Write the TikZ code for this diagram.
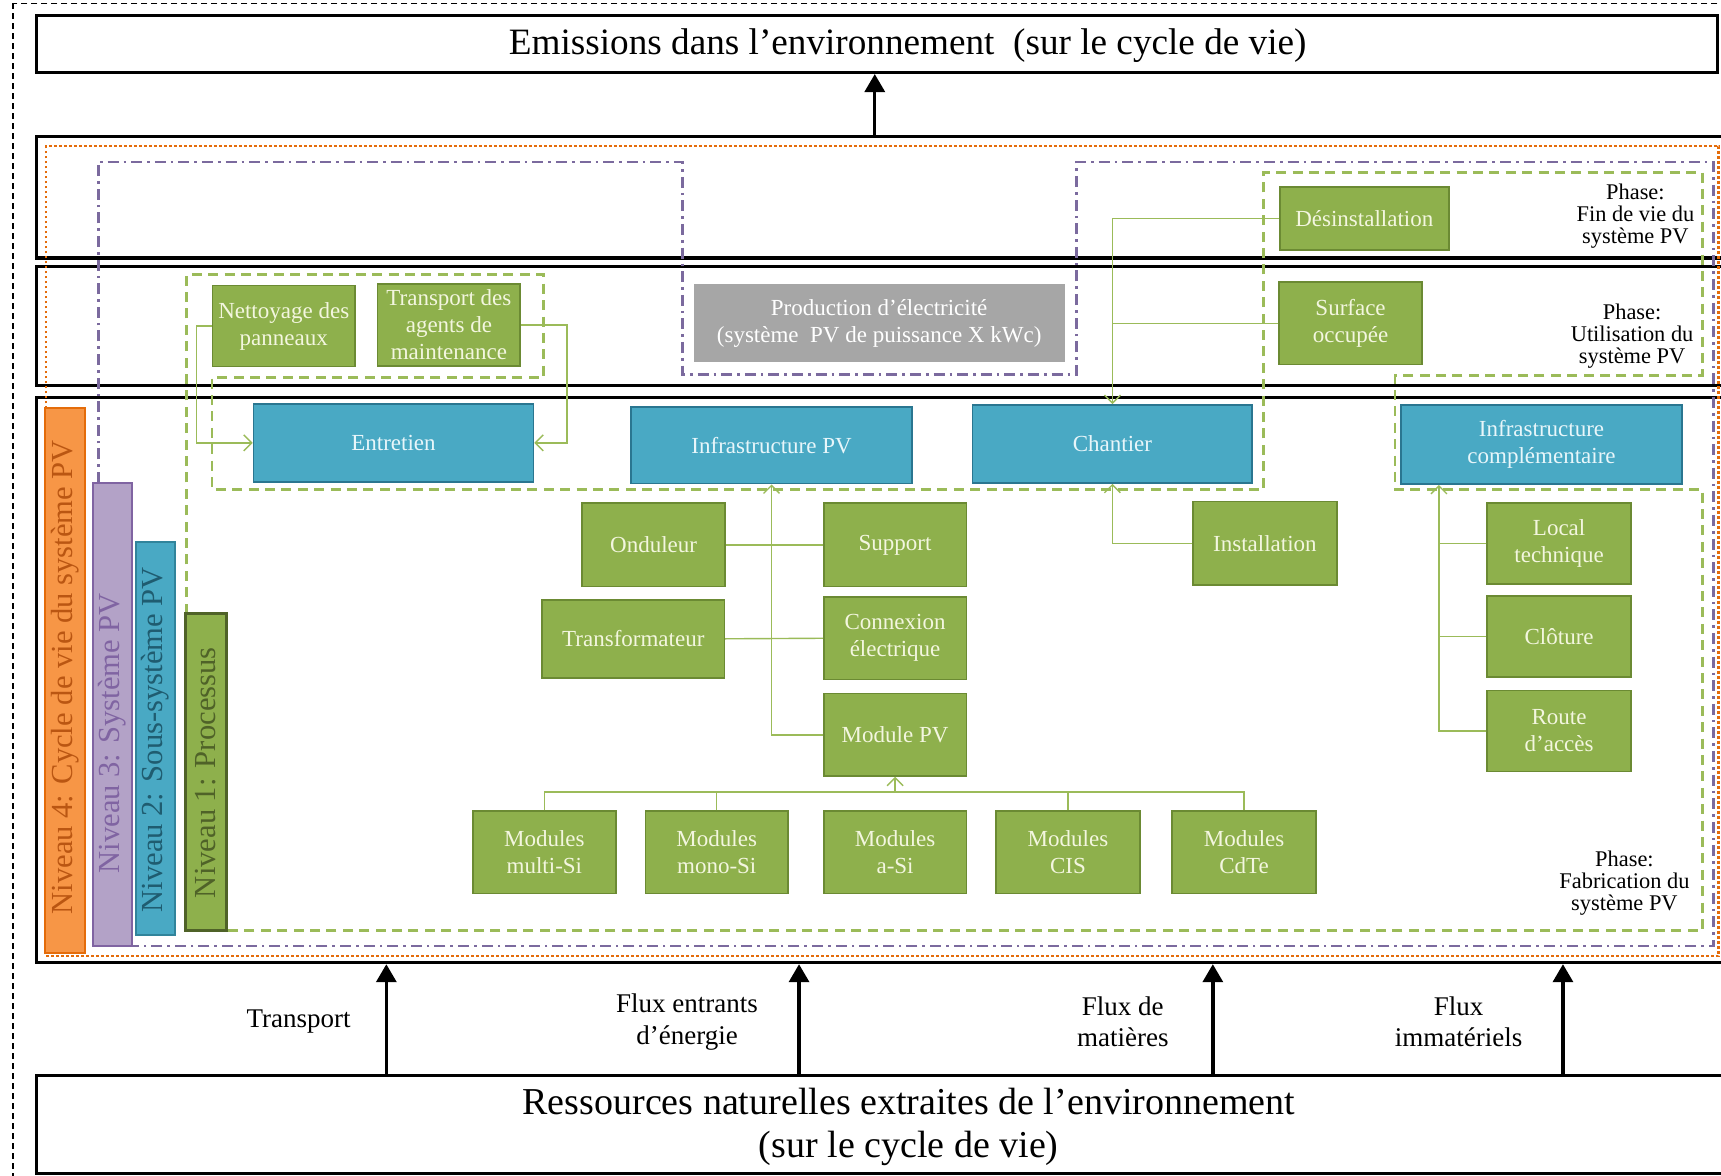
\documentclass[tikz,border=0pt]{standalone}
\usepackage{fontspec}
\setmainfont{Liberation Serif}
\usetikzlibrary{arrows.meta}
\definecolor{gfill}{HTML}{8EB04C}
\definecolor{gdraw}{HTML}{6B8A33}
\definecolor{gtext}{HTML}{F3F6DF}
\definecolor{bfill}{HTML}{49A9C4}
\definecolor{bdraw}{HTML}{2A7690}
\definecolor{btext}{HTML}{E8F6FA}
\definecolor{grayfill}{HTML}{A6A6A6}
\definecolor{lgreen}{HTML}{9BBB59}
\definecolor{dgreen}{HTML}{4F6228}
\definecolor{orangeF}{HTML}{F79646}
\definecolor{orangeD}{HTML}{E46C0A}
\definecolor{orangeT}{HTML}{BA5612}
\definecolor{purpF}{HTML}{B3A2C7}
\definecolor{purpD}{HTML}{8064A2}
\definecolor{purpL}{HTML}{7B6A9E}
\definecolor{tealD}{HTML}{31849B}
\definecolor{tealT}{HTML}{1F5C70}
\tikzset{
  wh/.style 2 args={minimum width=#1*0.5488pt, minimum height=#2*0.5488pt},
  boxfont/.style={font=\fontsize{11.5}{13.5}\selectfont},
  gbox/.style={draw=gdraw, line width=0.8pt, fill=gfill, text=gtext, align=center, inner sep=1pt, boxfont},
  bbox/.style={draw=bdraw, line width=0.9pt, fill=bfill, text=btext, align=center, inner sep=1pt, boxfont},
  graybox/.style={draw=none, fill=grayfill, text=white, align=center, inner sep=1pt, boxfont},
  band/.style={draw=black, line width=1.6pt, inner sep=0pt},
  bigbox/.style={draw=black, line width=1.6pt, inner sep=0pt},
  bigarr/.style={draw=black, line width=1.7pt, -{Triangle[length=9pt,width=10pt]}},
  conn/.style={draw=lgreen, line width=0.7pt},
  arr/.style={conn, -{Straight Barb[length=4pt,width=8pt]}},
  gdash/.style={draw=lgreen, line width=1.3pt, dash pattern=on 5pt off 3.2pt},
  pdash/.style={draw=purpL, line width=1.3pt, dash pattern=on 5.5pt off 2.5pt on 1.3pt off 2.5pt},
  odot/.style={draw=orangeD, line width=1.4pt, dash pattern=on 1.4pt off 1.1pt},
  phase/.style={align=center, inner sep=0pt, font=\fontsize{11.2}{11}\selectfont},
  lbl/.style={align=center, inner sep=0pt, font=\fontsize{13.5}{15.9}\selectfont},
  bartext/.style={rotate=90, inner sep=0pt, font=\fontsize{15.3}{15}\selectfont},
}
\begin{document}
\begin{tikzpicture}[x=0.5488pt,y=-0.5488pt]
\useasboundingbox (0,0) rectangle (1568,1071);
\clip (0,0) rectangle (1568,1071);
\fill[white] (0,0) rectangle (1568,1071);
% outer dashed frame
\draw[black, line width=0.8pt, dash pattern=on 3pt off 2pt] (12,3) rectangle (1600,1100);
% emissions and resources boxes
\node[bigbox, wh={1532}{52}] (emis) at (799,40) {};
\node[font=\fontsize{18.6}{21.4}\selectfont, inner sep=0pt] (emist) at (827,42) {Emissions dans l’environnement\ \ (sur le cycle de vie)};
\node[bigbox, wh={1552}{89}] (res) at (809,1024.5) {};
\node[font=\fontsize{19}{21.4}\selectfont, align=center, inner sep=0pt] (rest) at (828,1027) {Ressources naturelles extraites de l’environnement\\(sur le cycle de vie)};
% phase bands
\node[band, wh={1552}{111}] (b1) at (809,179.5) {};
\node[band, wh={1552}{108}] (b2) at (809,297) {};
\node[band, wh={1552}{515}] (b3) at (809,619.5) {};
% level boundaries
\draw[odot] (42,372) -- (42,133) -- (1566,133) -- (1566,871) -- (42,871);
\draw[pdash] (89.5,440) -- (89.5,147.5) -- (622,147.5) -- (622,341) -- (981,341) -- (981,147.5) -- (1561,147.5) -- (1561,862) -- (120,862);
\draw[gdash] (170,559) -- (170,250) -- (495,250) -- (495,344) -- (193,344) -- (193,446) -- (1151,446) -- (1151,157) -- (1551,157) -- (1551,342) -- (1271,342) -- (1271,446) -- (1551,446) -- (1551,848) -- (206,848);
% arrows between environment and system
\coordinate (tx) at (797,0);
\draw[bigarr] (b1.north -| tx) -- (emis.south -| tx);
\coordinate (ax1) at (352,0);
\coordinate (ax2) at (728,0);
\coordinate (ax3) at (1105,0);
\coordinate (ax4) at (1424,0);
\foreach \a in {ax1,ax2,ax3,ax4} \draw[bigarr] (res.north -| \a) -- (b3.south -| \a);
\node[lbl] (l1) at (272,931) {Transport};
\node[lbl] (l2) at (626,931) {Flux entrants\\d’énergie};
\node[lbl] (l3) at (1023,931) {Flux de\\matières};
\node[lbl] (l4) at (1329,931) {Flux\\immatériels};
% phase labels
\node[phase] (ph1) at (1490,197) {Phase:\\Fin de vie du\\système PV};
\node[phase] (ph2) at (1487,306) {Phase:\\Utilisation du\\système PV};
\node[phase] (ph3) at (1480,805) {Phase:\\Fabrication du\\système PV};
% level bars
\draw[fill=orangeF, draw=orangeD, line width=1pt] (41,372) rectangle (77,868);
\node[bartext, text=orangeT] (n4) at (59,617) {Niveau 4: Cycle de vie du système PV};
\draw[fill=purpF, draw=purpD, line width=1pt] (85,440) rectangle (120,862);
\node[bartext, text=purpD] (n3) at (102.5,668) {Niveau 3: Système PV};
\draw[fill=bfill, draw=tealD, line width=1pt] (124,494) rectangle (159,852);
\node[bartext, text=tealT] (n2) at (141.5,674) {Niveau 2: Sous-système PV};
\draw[fill=gfill, draw=dgreen, line width=1.5pt] (169,559) rectangle (206,848);
\node[bartext, text=dgreen] (n1) at (187.5,704) {Niveau 1: Processus};
% sub-systems
\node[bbox, wh={255}{71}] (entr) at (358.5,403.5) {Entretien};
\node[bbox, wh={256}{70}] (infpv) at (703,405.5) {Infrastructure PV};
\node[bbox, wh={255}{71}] (chant) at (1013.5,404.5) {Chantier};
\node[bbox, wh={256}{72}] (infc) at (1404.5,405) {Infrastructure\\complémentaire};
\node[graybox, wh={338}{71}] (prod) at (801,294.5) {Production d’électricité\\(système\ \ PV de puissance X kWc)};
% processes
\node[gbox, wh={130}{74}] (nett) at (258.5,297) {Nettoyage des\\panneaux};
\node[gbox, wh={130}{75}] (transp) at (409,296) {Transport des\\agents de\\maintenance};
\node[gbox, wh={154}{57}] (desinst) at (1243,199) {Désinstallation};
\node[gbox, wh={130}{75}] (surf) at (1230.5,294.5) {Surface\\occupée};
\node[gbox, wh={131}{76}] (instal) at (1152.5,495) {Installation};
\node[gbox, wh={130}{76}] (ond) at (595.5,496.5) {Onduleur};
\node[gbox, wh={130}{76}] (supp) at (815.5,496.5) {Support};
\node[gbox, wh={166}{71}] (transf) at (577,582) {Transformateur};
\node[gbox, wh={130}{75}] (conn) at (815.5,581.5) {Connexion\\électrique};
\node[gbox, wh={130}{75}] (modpv) at (815.5,669.5) {Module PV};
\node[gbox, wh={130}{75}] (m1) at (496,776.5) {Modules\\multi-Si};
\node[gbox, wh={130}{75}] (m2) at (653,776.5) {Modules\\mono-Si};
\node[gbox, wh={130}{75}] (m3) at (815.5,776.5) {Modules\\a-Si};
\node[gbox, wh={131}{75}] (m4) at (973,776.5) {Modules\\CIS};
\node[gbox, wh={131}{75}] (m5) at (1133.5,776.5) {Modules\\CdTe};
\node[gbox, wh={131}{74}] (local) at (1420.5,495) {Local\\technique};
\node[gbox, wh={131}{74}] (clot) at (1420.5,580) {Clôture};
\node[gbox, wh={131}{74}] (route) at (1420.5,666) {Route\\d’accès};
% connectors
\draw[arr] (nett.west) -- ++(-14,0) |- (entr.west);
\draw[arr] (transp.east) -- ++(42,0) |- (entr.east);
\draw[arr] (desinst.west) -| (chant.north);
\draw[conn] (surf.west) -- (surf.west -| chant.north);
\draw[arr] (instal.west) -| (chant.south);
\draw[conn] (ond.east) -- (supp.west);
\draw[conn] (transf.east) -- (conn.west);
\draw[arr] (modpv.west) -| (infpv.south);
\coordinate (mj) at (815.5,721.5);
\draw[conn] (m1.north) -- (m1.north |- mj) -- (m5.north |- mj) -- (m5.north);
\draw[conn] (m2.north) -- (m2.north |- mj);
\draw[conn] (m4.north) -- (m4.north |- mj);
\draw[arr] (mj) -- (modpv.south);
\coordinate (lj) at (1311,666);
\draw[arr] (route.west) -- (lj) -- (lj |- infc.south);
\draw[conn] (local.west) -- (local.west -| lj);
\draw[conn] (clot.west) -- (clot.west -| lj);
\end{tikzpicture}
\end{document}
